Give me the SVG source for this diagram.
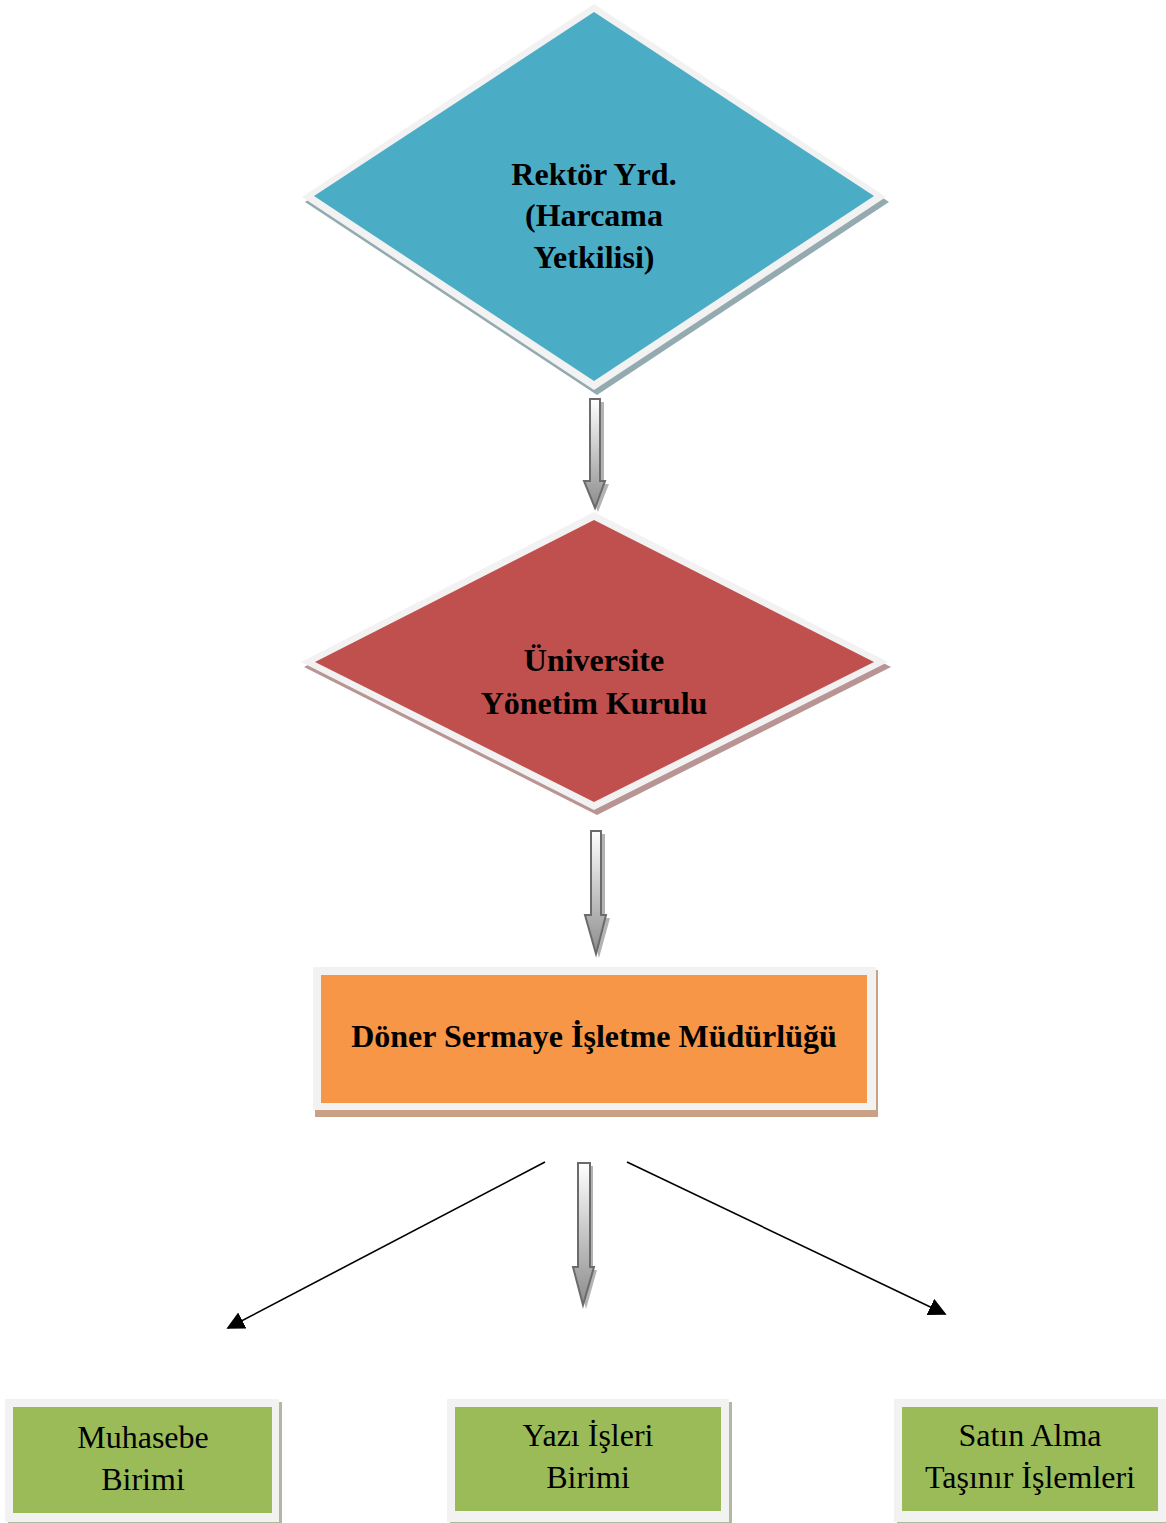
<svg xmlns="http://www.w3.org/2000/svg" width="1166" height="1523" viewBox="0 0 1166 1523">
<style>
.b{font-family:"Liberation Serif","Times New Roman",serif;font-weight:bold;font-size:32px;fill:#000;text-anchor:middle}
.r{font-family:"Liberation Serif","Times New Roman",serif;font-size:32px;fill:#000;text-anchor:middle}
.frame{fill:#f2f2f2}
.blk{stroke:#6b6b6b;stroke-width:2;fill:url(#ag)}
.bsh{fill:#b3b3b3}
</style>
<defs>
<linearGradient id="ag" x1="0" y1="0" x2="0" y2="1">
<stop offset="0" stop-color="#ffffff"/>
<stop offset="1" stop-color="#8c8c8c"/>
</linearGradient>
<marker id="ah2" viewBox="0 0 10 10" refX="9" refY="5" markerWidth="18" markerHeight="18" markerUnits="userSpaceOnUse" orient="auto">
<path d="M0,0 L10,5 L0,10 z" fill="#000"/>
</marker>
</defs>

<g id="n1">
<polygon points="597,9 889,202 597,395 305,202" fill="#93aab1"/>
<polygon class="frame" points="594,4 886,197 594,390 302,197"/>
<polygon points="594,12 874,196 594,381 314,196" fill="#4bacc6"/>
<text class="b" x="594" y="185">Rektör Yrd.</text>
<text class="b" x="594" y="226">(Harcama</text>
<text class="b" x="594" y="268">Yetkilisi)</text>
</g>

<g id="n2">
<polygon points="597,517 891,667 597,815 304,667" fill="#b99494"/>
<polygon class="frame" points="594,512 888,662 594,810 301,662"/>
<polygon points="594,520 874,662 594,802 315,662" fill="#c0504d"/>
<text class="b" x="594" y="671">Üniversite</text>
<text class="b" x="594" y="714">Yönetim Kurulu</text>
</g>

<g id="n3">
<rect x="315" y="970" width="563" height="147" fill="#c9a285"/>
<rect class="frame" x="313" y="967" width="563" height="143"/>
<rect x="321" y="975" width="546" height="128" fill="#f79646"/>
<text class="b" x="594" y="1047">Döner Sermaye İşletme Müdürlüğü</text>
</g>

<g id="n4">
<rect x="8" y="1402" width="274" height="121" fill="#b0b8a0"/>
<rect class="frame" x="5" y="1399" width="274" height="123"/>
<rect x="13" y="1407" width="259" height="106" fill="#9bbb59"/>
<text class="r" x="143" y="1448">Muhasebe</text>
<text class="r" x="143" y="1490">Birimi</text>
</g>

<g id="n5">
<rect x="450" y="1402" width="282" height="121" fill="#b0b8a0"/>
<rect class="frame" x="447" y="1399" width="282" height="123"/>
<rect x="455" y="1407" width="266" height="104" fill="#9bbb59"/>
<text class="r" x="588" y="1446">Yazı İşleri</text>
<text class="r" x="588" y="1488">Birimi</text>
</g>

<g id="n6">
<rect x="897" y="1402" width="272" height="121" fill="#b0b8a0"/>
<rect class="frame" x="894" y="1399" width="272" height="123"/>
<rect x="902" y="1407" width="256" height="104" fill="#9bbb59"/>
<text class="r" x="1030" y="1446">Satın Alma</text>
<text class="r" x="1030" y="1488">Taşınır İşlemleri</text>
</g>

<g id="connectors">
<polygon class="bsh" points="593,402 604,402 604,484 609,484 598,512 587,484 593,484"/>
<polygon class="blk" points="590,399 600,399 600,481 605,481 595,508 584,481 590,481"/>
<polygon class="bsh" points="594,834 605,834 605,918 610,918 599,958 588,918 594,918"/>
<polygon class="blk" points="591,831 601,831 601,915 606,915 596,954 585,915 591,915"/>
<polygon class="bsh" points="581,1166 593,1166 593,1270 597,1270 586,1309 576,1270 581,1270"/>
<polygon class="blk" points="578,1163 590,1163 590,1267 594,1267 583,1305 573,1267 578,1267"/>
<line x1="545" y1="1162" x2="228" y2="1328" stroke="#000" stroke-width="1.6" marker-end="url(#ah2)"/>
<line x1="627" y1="1162" x2="945" y2="1314" stroke="#000" stroke-width="1.6" marker-end="url(#ah2)"/>
</g>
</svg>
